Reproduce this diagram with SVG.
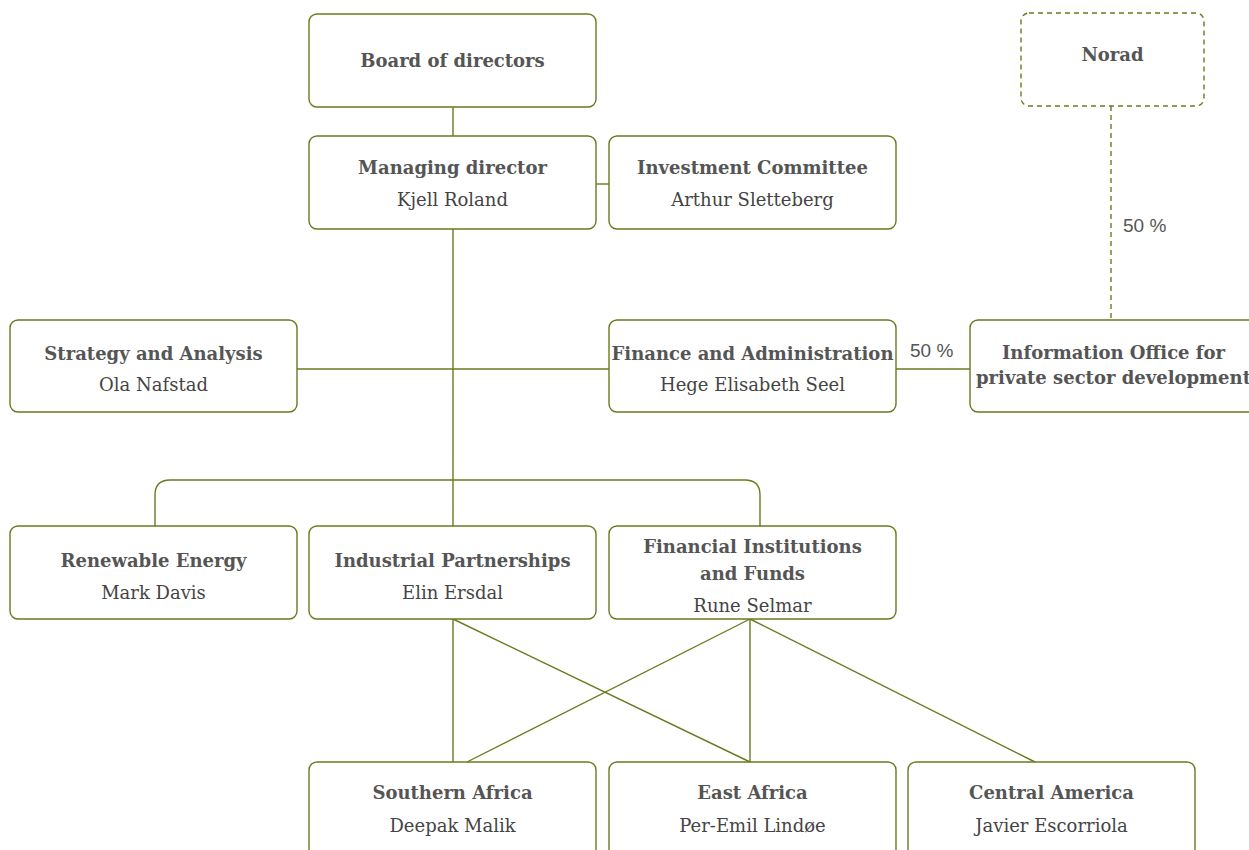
<svg xmlns="http://www.w3.org/2000/svg" width="1249" height="850" viewBox="0 0 1249 850">
<style>
.box{fill:#fff;stroke:#6b7a1e;stroke-width:1.4}
.dash{fill:#fff;stroke:#6b7a1e;stroke-width:1.4;stroke-dasharray:5 4}
.ln{fill:none;stroke:#6b7a1e;stroke-width:1.4}
.dln{fill:none;stroke:#6b7a1e;stroke-width:1.4;stroke-dasharray:5 4}
.t{font-family:"DejaVu Serif",serif;font-weight:bold;font-size:18px;fill:#555;text-anchor:middle}
.n{font-family:"DejaVu Serif",serif;font-size:18px;fill:#444;text-anchor:middle}
.p{font-family:"Liberation Sans",sans-serif;font-size:19px;fill:#555}
</style>
<rect width="1249" height="850" fill="#fff"/>
<g id="connectors">
<line class="ln" x1="453" y1="107" x2="453" y2="136"/>
<line class="ln" x1="596" y1="184" x2="609" y2="184"/>
<line class="ln" x1="453" y1="229" x2="453" y2="526"/>
<line class="ln" x1="297" y1="369" x2="609" y2="369"/>
<line class="ln" x1="896" y1="369" x2="970" y2="369"/>
<line class="dln" x1="1111" y1="106" x2="1111" y2="320"/>
<path class="ln" d="M155 526 V495 Q155 480 170 480 H745 Q760 480 760 495 V526"/>
<line class="ln" x1="453" y1="619" x2="453" y2="762"/>
<line class="ln" x1="453" y1="619" x2="750" y2="762"/>
<line class="ln" x1="750" y1="619" x2="467" y2="762"/>
<line class="ln" x1="750" y1="619" x2="750" y2="762"/>
<line class="ln" x1="750" y1="619" x2="1035" y2="762"/>
<text class="p" x="910" y="357">50 %</text>
<text class="p" x="1123" y="232">50 %</text>
</g>
<g id="board"><rect class="box" x="309" y="14" width="287" height="93" rx="8"/><text class="t" x="452.5" y="67">Board of directors</text></g>
<g id="norad"><rect class="dash" x="1021" y="13" width="183" height="93" rx="8"/><text class="t" x="1112.5" y="61">Norad</text></g>
<g id="md"><rect class="box" x="309" y="136" width="287" height="93" rx="8"/><text class="t" x="452.5" y="174">Managing director</text><text class="n" x="452.5" y="206">Kjell Roland</text></g>
<g id="ic"><rect class="box" x="609" y="136" width="287" height="93" rx="8"/><text class="t" x="752.5" y="174">Investment Committee</text><text class="n" x="752.5" y="206">Arthur Sletteberg</text></g>
<g id="sa"><rect class="box" x="10" y="320" width="287" height="92" rx="8"/><text class="t" x="153.5" y="360">Strategy and Analysis</text><text class="n" x="153.5" y="391">Ola Nafstad</text></g>
<g id="fa"><rect class="box" x="609" y="320" width="287" height="92" rx="8"/><text class="t" x="752.5" y="360">Finance and Administration</text><text class="n" x="752.5" y="391">Hege Elisabeth Seel</text></g>
<g id="info"><rect class="box" x="970" y="320" width="287" height="92" rx="8"/><text class="t" x="1113.5" y="359">Information Office for</text><text class="t" x="1113.5" y="384">private sector development</text></g>
<g id="re"><rect class="box" x="10" y="526" width="287" height="93" rx="8"/><text class="t" x="153.5" y="567">Renewable Energy</text><text class="n" x="153.5" y="599">Mark Davis</text></g>
<g id="ip"><rect class="box" x="309" y="526" width="287" height="93" rx="8"/><text class="t" x="452.5" y="567">Industrial Partnerships</text><text class="n" x="452.5" y="599">Elin Ersdal</text></g>
<g id="fi"><rect class="box" x="609" y="526" width="287" height="93" rx="8"/><text class="t" x="752.5" y="553">Financial Institutions</text><text class="t" x="752.5" y="580">and Funds</text><text class="n" x="752.5" y="612">Rune Selmar</text></g>
<g id="saf"><rect class="box" x="309" y="762" width="287" height="100" rx="8"/><text class="t" x="452.5" y="799">Southern Africa</text><text class="n" x="452.5" y="832">Deepak Malik</text></g>
<g id="eaf"><rect class="box" x="609" y="762" width="287" height="100" rx="8"/><text class="t" x="752.5" y="799">East Africa</text><text class="n" x="752.5" y="832">Per-Emil Lindøe</text></g>
<g id="cam"><rect class="box" x="908" y="762" width="287" height="100" rx="8"/><text class="t" x="1051.5" y="799">Central America</text><text class="n" x="1051.5" y="832">Javier Escorriola</text></g>
</svg>
